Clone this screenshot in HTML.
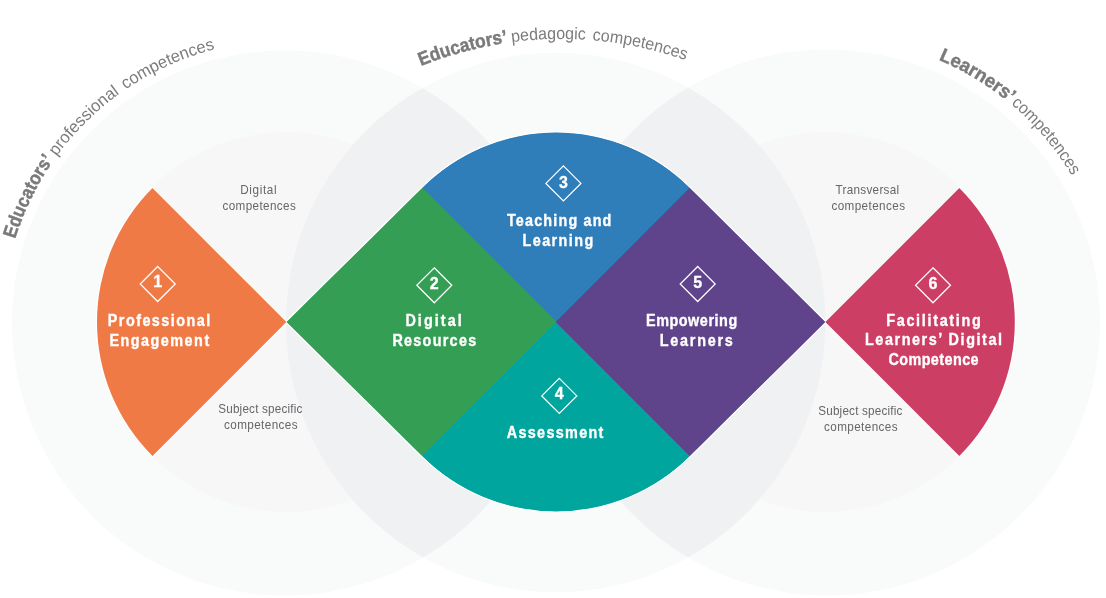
<!DOCTYPE html>
<html><head><meta charset="utf-8">
<style>
html,body{margin:0;padding:0;background:#fff;width:1106px;height:598px;overflow:hidden}
svg{display:block;font-family:"Liberation Sans",sans-serif;will-change:transform}
.lbl{fill:#fff;font-weight:bold;font-size:16px;stroke:#fff;stroke-width:0.35}
.num{fill:#fff;font-weight:bold;font-size:16px;text-anchor:middle;stroke:#fff;stroke-width:0.3}
.sm{fill:#656668;font-size:12.2px}
.tt{fill:#7c7c7c;font-size:17px;white-space:pre}
.tb{font-weight:bold;fill:#7a7a7a;stroke:#7a7a7a;stroke-width:0.45}
</style></head><body>
<svg width="1106" height="598" viewBox="0 0 1106 598">
<defs>
<clipPath id="cL"><circle cx="284.5" cy="323" r="272.5"/></clipPath>
<clipPath id="cR"><circle cx="827" cy="322.5" r="273"/></clipPath>
</defs>
<circle cx="284.5" cy="323" r="272.5" fill="#f9fafa"/>
<circle cx="827" cy="322.5" r="273" fill="#f9fafa"/>
<circle cx="555.7" cy="322.5" r="269.7" fill="#f9fafa"/>
<circle cx="286.5" cy="322" r="190" fill="#f7f7f8"/>
<circle cx="825.5" cy="322" r="190" fill="#f7f7f8"/>
<g clip-path="url(#cL)"><circle cx="555.7" cy="322.5" r="269.7" fill="#f0f1f3"/></g>
<g clip-path="url(#cR)"><circle cx="555.7" cy="322.5" r="269.7" fill="#f0f1f3"/></g>

<g fill="#fff" stroke="#fff" stroke-width="2.4" stroke-linejoin="miter">
<path d="M286.4 322 L152.47 455.93 A189.4 189.4 0 0 1 152.47 188.07 Z"/>
<path d="M825.4 322 L959.33 188.07 A189.4 189.4 0 0 1 959.33 455.93 Z"/>
<path d="M286.4 322 L422.07 188.07 A189.4 189.4 0 0 1 689.93 188.07 L825.4 322 L689.93 455.93 A189.4 189.4 0 0 1 422.07 455.93 Z"/>
</g>
<path fill="#ef7a46" d="M286.4 322 L152.47 455.93 A189.4 189.4 0 0 1 152.47 188.07 Z"/>
<path fill="#cc3e63" d="M825.4 322 L959.33 188.07 A189.4 189.4 0 0 1 959.33 455.93 Z"/>
<clipPath id="cM"><path d="M286.4 322 L422.07 188.07 A189.4 189.4 0 0 1 689.93 188.07 L825.4 322 L689.93 455.93 A189.4 189.4 0 0 1 422.07 455.93 Z"/></clipPath><g clip-path="url(#cM)">
<path fill="#2f7db9" stroke="#2f7db9" stroke-width="0.8" d="M556 322 L422.07 188.07 A189.4 189.4 0 0 1 689.93 188.07 Z"/>
<path fill="#00a59e" stroke="#00a59e" stroke-width="0.8" d="M556 322 L689.93 455.93 A189.4 189.4 0 0 1 422.07 455.93 Z"/>
<path fill="#349e55" stroke="#349e55" stroke-width="0.8" d="M286.4 322 L422.07 188.07 L556 322 L422.07 455.93 Z"/>
<path fill="#5f438b" stroke="#5f438b" stroke-width="0.8" d="M556 322 L689.93 188.07 L825.4 322 L689.93 455.93 Z"/>
</g>
<g fill="none" stroke="#fff" stroke-width="1.25">
<path d="M157.7 266.5 L175.2 284 L157.7 301.5 L140.2 284 Z"/>
<path d="M434.3 267.8 L451.8 285.3 L434.3 302.8 L416.8 285.3 Z"/>
<path d="M563.4 165.9 L580.9 183.4 L563.4 200.9 L545.9 183.4 Z"/>
<path d="M559.3 378.4 L576.8 395.9 L559.3 413.4 L541.8 395.9 Z"/>
<path d="M697.7 266.5 L715.2 284 L697.7 301.5 L680.2 284 Z"/>
<path d="M933 267.8 L950.5 285.3 L933 302.8 L915.5 285.3 Z"/>
</g>
<text class="num" x="157.70" y="286.70">1</text>
<text class="num" x="434.30" y="288.80">2</text>
<text class="num" x="563.40" y="187.90">3</text>
<text class="num" x="559.30" y="398.80">4</text>
<text class="num" x="697.70" y="287.60">5</text>
<text class="num" x="933.00" y="288.70">6</text>
<text class="lbl" transform="translate(107.80 326.0) scale(0.9 1)" x="0" y="0" textLength="113.78" lengthAdjust="spacing">Professional</text>
<text class="lbl" transform="translate(109.40 346.1) scale(0.9 1)" x="0" y="0" textLength="110.89" lengthAdjust="spacing">Engagement</text>
<text class="lbl" transform="translate(405.40 325.7) scale(0.9 1)" x="0" y="0" textLength="62.67" lengthAdjust="spacing">Digital</text>
<text class="lbl" transform="translate(392.40 346.1) scale(0.9 1)" x="0" y="0" textLength="93.11" lengthAdjust="spacing">Resources</text>
<text class="lbl" transform="translate(507.00 225.9) scale(0.9 1)" x="0" y="0" textLength="116.00" lengthAdjust="spacing">Teaching and</text>
<text class="lbl" transform="translate(522.60 245.8) scale(0.9 1)" x="0" y="0" textLength="78.44" lengthAdjust="spacing">Learning</text>
<text class="lbl" transform="translate(506.80 437.6) scale(0.9 1)" x="0" y="0" textLength="107.33" lengthAdjust="spacing">Assessment</text>
<text class="lbl" transform="translate(646.00 326.0) scale(0.9 1)" x="0" y="0" textLength="101.33" lengthAdjust="spacing">Empowering</text>
<text class="lbl" transform="translate(659.80 346.1) scale(0.9 1)" x="0" y="0" textLength="81.11" lengthAdjust="spacing">Learners</text>
<text class="lbl" transform="translate(886.20 326.2) scale(0.9 1)" x="0" y="0" textLength="105.11" lengthAdjust="spacing">Facilitating</text>
<text class="lbl" transform="translate(865.00 344.8) scale(0.9 1)" x="0" y="0" textLength="152.22" lengthAdjust="spacing">Learners’ Digital</text>
<text class="lbl" transform="translate(888.40 364.9) scale(0.9 1)" x="0" y="0" textLength="100.22" lengthAdjust="spacing">Competence</text>
<text class="sm" transform="translate(240.20 194.0) scale(0.96 1)" x="0" y="0" textLength="37.92" lengthAdjust="spacing">Digital</text>
<text class="sm" transform="translate(222.40 209.8) scale(0.96 1)" x="0" y="0" textLength="76.46" lengthAdjust="spacing">competences</text>
<text class="sm" transform="translate(218.20 412.6) scale(0.96 1)" x="0" y="0" textLength="87.71" lengthAdjust="spacing">Subject specific</text>
<text class="sm" transform="translate(224.00 428.9) scale(0.96 1)" x="0" y="0" textLength="76.67" lengthAdjust="spacing">competences</text>
<text class="sm" transform="translate(835.40 194.0) scale(0.96 1)" x="0" y="0" textLength="66.46" lengthAdjust="spacing">Transversal</text>
<text class="sm" transform="translate(831.40 209.8) scale(0.96 1)" x="0" y="0" textLength="76.67" lengthAdjust="spacing">competences</text>
<text class="sm" transform="translate(818.20 414.9) scale(0.96 1)" x="0" y="0" textLength="87.71" lengthAdjust="spacing">Subject specific</text>
<text class="sm" transform="translate(824.00 430.7) scale(0.96 1)" x="0" y="0" textLength="76.67" lengthAdjust="spacing">competences</text>
<defs>
<path id="pL" d="M2.50 322.50 A282 282 0 0 1 562.22 273.53 A282 282 0 0 1 19.51 418.95"/>
<path id="pM" d="M319.95 126.73 A375 375 0 0 1 848.27 655.05 A375 375 0 0 1 236.24 226.50"/>
<path id="pR" d="M827.00 37.00 A285.5 285.5 0 0 1 876.58 603.66 A285.5 285.5 0 0 1 729.35 54.22"/>
</defs>
<text class="tt tb" style="font-size:19px"><textPath href="#pL" startOffset="84.7" textLength="88.5" lengthAdjust="spacingAndGlyphs">Educators’</textPath></text>
<text class="tt" style="font-size:17px"><textPath href="#pL" startOffset="177.5" textLength="89.5" lengthAdjust="spacingAndGlyphs">professional</textPath></text>
<text class="tt" style="font-size:17px"><textPath href="#pL" startOffset="274.0" textLength="98.5" lengthAdjust="spacingAndGlyphs">competences</textPath></text>
<text class="tt tb" style="font-size:19px"><textPath href="#pM" startOffset="118.3" textLength="90" lengthAdjust="spacingAndGlyphs">Educators’</textPath></text>
<text class="tt" style="font-size:17px"><textPath href="#pM" startOffset="212.3" textLength="74" lengthAdjust="spacingAndGlyphs">pedagogic</textPath></text>
<text class="tt" style="font-size:17px"><textPath href="#pM" startOffset="293.1" textLength="95.5" lengthAdjust="spacingAndGlyphs">competences</textPath></text>
<text class="tt tb" style="font-size:19px"><textPath href="#pR" startOffset="114.6" textLength="83" lengthAdjust="spacingAndGlyphs">Learners’</textPath></text>
<text class="tt" style="font-size:17px"><textPath href="#pR" startOffset="199.8" textLength="94.5" lengthAdjust="spacingAndGlyphs">competences</textPath></text>
</svg>
</body></html>
